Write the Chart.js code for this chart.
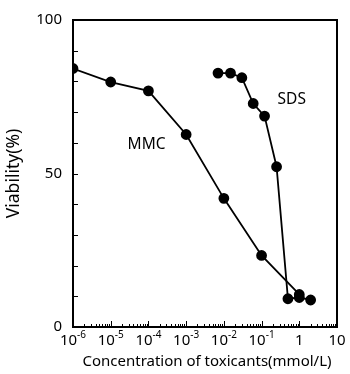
<!DOCTYPE html>
<html>
<head>
<meta charset="utf-8">
<script src="https://cdn.jsdelivr.net/npm/chart.js@4/dist/chart.umd.min.js"></script>
<style>
  html, body { margin: 0; padding: 0; background: #fff; }
  #wrap { width: 350px; height: 374px; }
</style>
</head>
<body>
<div id="wrap"><canvas id="viability-chart"></canvas></div>
<script>
var mmcConc = [1e-6, 1e-5, 1e-4, 1e-3, 1e-2, 1e-1, 1];
var mmcViab = [84.2, 79.8, 76.9, 62.7, 41.9, 23.3, 10.6];
var sdsConc = [0.007, 0.015, 0.03, 0.06, 0.12, 0.25, 0.5, 1, 2];
var sdsViab = [82.7, 82.7, 81.2, 72.8, 68.7, 52.2, 9.2, 9.6, 8.8];
var xExponents = [-6, -5, -4, -3, -2, -1, 0, 1];
var yTickValues = [0, 10, 20, 30, 40, 50, 60, 70, 80, 90, 100];
var yTickLabels = ['0', '', '', '', '', '50', '', '', '', '', '100'];

var FONT = '"Noto Sans", sans-serif';

function toPoints(xs, ys) {
    return xs.map(function (x, i) { return { x: x, y: ys[i] }; });
}

// inward ticks, frame, custom log labels and series names
var decorPlugin = {
    id: 'decor',
    afterDraw: function (chart) {
        var ctx = chart.ctx;
        var area = chart.chartArea;
        var xs = chart.scales.x;
        var ys = chart.scales.y;
        ctx.save();
        ctx.strokeStyle = '#000';
        ctx.lineWidth = 1;

        // x minor/major ticks
        for (var e = -6; e < 1; e++) {
            for (var m = 1; m <= 10; m++) {
                var px = Math.round(xs.getPixelForValue(m * Math.pow(10, e))) + 0.5;
                var len = (m === 1 || m === 10) ? 6 : 3;
                ctx.beginPath();
                ctx.moveTo(px, area.bottom);
                ctx.lineTo(px, area.bottom - len);
                ctx.stroke();
            }
        }
        // y ticks
        yTickValues.forEach(function (v) {
            var py = Math.round(ys.getPixelForValue(v)) + 0.5;
            ctx.beginPath();
            ctx.moveTo(area.left, py);
            ctx.lineTo(area.left + 5, py);
            ctx.stroke();
        });

        // frame
        ctx.lineWidth = 2;
        ctx.strokeRect(area.left, area.top, area.right - area.left, area.bottom - area.top);

        // x labels with superscripts
        ctx.fillStyle = '#000';
        ctx.textBaseline = 'alphabetic';
        xExponents.forEach(function (p) {
            var px = xs.getPixelForValue(Math.pow(10, p));
            var base = p === 0 ? '1' : '10';
            var sup = (p === 0 || p === 1) ? '' : String(p);
            ctx.font = '15px ' + FONT;
            var wb = ctx.measureText(base).width;
            ctx.font = '10px ' + FONT;
            var ws = sup ? ctx.measureText(sup).width : 0;
            var start = px - (wb + ws) / 2;
            ctx.font = '15px ' + FONT;
            ctx.textAlign = 'left';
            ctx.fillText(base, start, 345);
            if (sup) {
                ctx.font = '10px ' + FONT;
                ctx.fillText(sup, start + wb, 338);
            }
        });

        // axis title x
        ctx.font = '15px ' + FONT;
        ctx.textAlign = 'center';
        ctx.fillText('Concentration of toxicants(mmol/L)', 207, 366);

        // series names
        ctx.font = '15.5px ' + FONT;
        ctx.fillText('MMC', xs.getPixelForValue(Math.pow(10, -4.05)), ys.getPixelForValue(58));
        ctx.fillText('SDS', xs.getPixelForValue(Math.pow(10, -0.2)), ys.getPixelForValue(72.5));
        ctx.restore();
    }
};

var ctx = document.getElementById('viability-chart').getContext('2d');
new Chart(ctx, {
    type: 'scatter',
    data: {
        datasets: [{
            label: 'MMC',
            data: toPoints(mmcConc, mmcViab),
            showLine: true,
            borderColor: '#000',
            backgroundColor: '#000',
            borderWidth: 1.8,
            pointRadius: 4.5,
            pointHoverRadius: 4.5
        }, {
            label: 'SDS',
            data: toPoints(sdsConc, sdsViab),
            showLine: true,
            borderColor: '#000',
            backgroundColor: '#000',
            borderWidth: 1.8,
            pointRadius: 4.5,
            pointHoverRadius: 4.5
        }]
    },
    options: {
        responsive: true,
        maintainAspectRatio: false,
        animation: false,
        events: [],
        layout: { padding: { top: 20, right: 13, left: 4, bottom: 0 } },
        plugins: {
            legend: { display: false },
            tooltip: { enabled: false }
        },
        scales: {
            x: {
                type: 'logarithmic',
                min: 1e-6,
                max: 10,
                grid: { display: false },
                border: { display: false },
                ticks: { display: false },
                afterFit: function (scale) { scale.height = 47; }
            },
            y: {
                min: 0,
                max: 100,
                grid: { display: false },
                border: { display: false },
                afterBuildTicks: function (scale) {
                    scale.ticks = yTickValues.map(function (v) { return { value: v }; });
                },
                ticks: {
                    autoSkip: false,
                    color: '#000',
                    padding: 3,
                    font: { family: FONT, size: 15 },
                    callback: function (value) {
                        return yTickLabels[yTickValues.indexOf(value)];
                    }
                },
                title: {
                    display: true,
                    text: 'Viability(%)',
                    color: '#000',
                    font: { family: FONT, size: 17.5 },
                    padding: { top: 0, bottom: 14 }
                },
                afterFit: function (scale) { scale.width = 69; }
            }
        }
    },
    plugins: [decorPlugin]
});
</script>
</body>
</html>
